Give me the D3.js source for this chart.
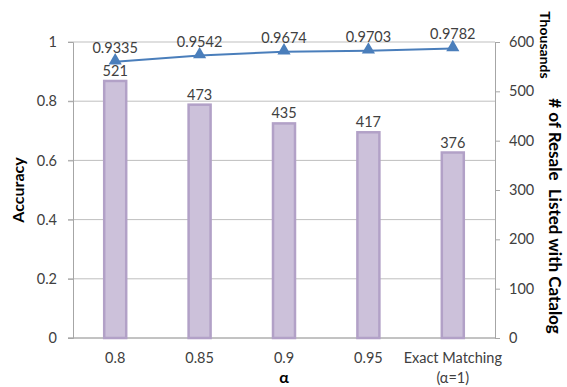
<!DOCTYPE html>
<html>
<head>
<meta charset="utf-8">
<script src="https://cdn.jsdelivr.net/npm/d3@7"></script>
<style>
  html, body { margin: 0; padding: 0; background: #fff; }
  svg text { font-family: Lato, "Open Sans", sans-serif; }
</style>
</head>
<body>
<svg id="chart" width="567" height="387"></svg>
<script>
// Categories along the x axis
const categories = ["0.8", "0.85", "0.9", "0.95", "Exact Matching"];
// Number of resale listings matched with catalog (thousands)
const listedCounts = [521, 473, 435, 417, 376];
// Accuracy per alpha
const accuracy = [0.9335, 0.9542, 0.9674, 0.9703, 0.9782];
// Tick values
const accuracyTicks = [0, 0.2, 0.4, 0.6, 0.8, 1];
const countTicks = [0, 100, 200, 300, 400, 500, 600];

const svg = d3.select("#chart");
const m = { left: 73, right: 495, top: 42, bottom: 338 };

const x = d3.scaleBand().domain(categories).range([m.left, m.right]);
const yAcc = d3.scaleLinear().domain([0, 1]).range([m.bottom, m.top]);
const yCnt = d3.scaleLinear().domain([0, 600]).range([m.bottom, m.top]);

const textColor = "#404040";

// Horizontal gridlines
svg.append("g").selectAll("line").data(accuracyTicks).join("line")
  .attr("x1", m.left - 5).attr("x2", m.right)
  .attr("y1", d => yAcc(d)).attr("y2", d => yAcc(d))
  .attr("stroke", "#bfbfbf").attr("stroke-width", 1);

// Left axis
const leftAxis = svg.append("g").attr("transform", `translate(${m.left},0)`)
  .call(d3.axisLeft(yAcc).tickValues(accuracyTicks).tickSize(5).tickPadding(11)
    .tickFormat(d => d3.format("")(d)));
leftAxis.select(".domain").attr("stroke", "#a6a6a6");
leftAxis.selectAll(".tick line").attr("stroke", "#a6a6a6");
leftAxis.selectAll("text").attr("font-size", 14.5).attr("fill", textColor)
  .style("font-family", "Lato, sans-serif");

// Right axis
const rightAxis = svg.append("g").attr("transform", `translate(${m.right},0)`)
  .call(d3.axisRight(yCnt).tickValues(countTicks).tickSize(5).tickPadding(9));
rightAxis.select(".domain").attr("stroke", "#a6a6a6");
rightAxis.selectAll(".tick line").attr("stroke", "#a6a6a6");
rightAxis.selectAll("text").attr("font-size", 14.5).attr("fill", textColor)
  .style("font-family", "Lato, sans-serif");

// Bottom axis line
svg.append("line")
  .attr("x1", m.left - 5).attr("x2", m.right)
  .attr("y1", m.bottom).attr("y2", m.bottom)
  .attr("stroke", "#a6a6a6");

// Bars
const barW = 22;
svg.append("g").selectAll("rect").data(listedCounts).join("rect")
  .attr("x", (d, i) => x(categories[i]) + x.bandwidth() / 2 - barW / 2)
  .attr("y", d => yCnt(d))
  .attr("width", barW)
  .attr("height", d => yCnt(0) - yCnt(d))
  .attr("fill", "#ccc1da")
  .attr("stroke", "#b2a1c7")
  .attr("stroke-width", 2.5);

// Bar value labels
svg.append("g").selectAll("text").data(listedCounts).join("text")
  .attr("x", (d, i) => x(categories[i]) + x.bandwidth() / 2)
  .attr("y", d => yCnt(d) - 5)
  .attr("text-anchor", "middle")
  .attr("font-size", 14.5).attr("fill", textColor)
  .text(d => d);

// Accuracy line
const line = d3.line()
  .x((d, i) => x(categories[i]) + x.bandwidth() / 2)
  .y(d => yAcc(d));
svg.append("path").datum(accuracy)
  .attr("d", line).attr("fill", "none")
  .attr("stroke", "#4a7ebb").attr("stroke-width", 2);

// Triangle markers
const tri = d3.symbol().type(d3.symbolTriangle).size(75);
svg.append("g").selectAll("path").data(accuracy).join("path")
  .attr("d", tri)
  .attr("transform", (d, i) => `translate(${x(categories[i]) + x.bandwidth() / 2},${yAcc(d) - 1})`)
  .attr("fill", "#4a7ebb");

// Accuracy value labels
svg.append("g").selectAll("text").data(accuracy).join("text")
  .attr("x", (d, i) => x(categories[i]) + x.bandwidth() / 2)
  .attr("y", d => yAcc(d) - 9)
  .attr("text-anchor", "middle")
  .attr("font-size", 14.5).attr("fill", textColor)
  .text(d => d3.format(".4f")(d));

// Category labels
const catG = svg.append("g");
categories.forEach((c, i) => {
  const cx = x(c) + x.bandwidth() / 2;
  catG.append("text").attr("x", cx).attr("y", 363)
    .attr("text-anchor", "middle").attr("font-size", 14.5).attr("fill", textColor)
    .text(c);
  if (c === "Exact Matching") {
    catG.append("text").attr("x", cx).attr("y", 383)
      .attr("text-anchor", "middle").attr("font-size", 14.5).attr("fill", textColor)
      .text("(α=1)");
  }
});

// Axis titles
svg.append("text")
  .attr("transform", "translate(24,190) rotate(-90)")
  .attr("text-anchor", "middle").attr("font-size", 16).attr("font-weight", "bold")
  .attr("fill", "#000").text("Accuracy");

svg.append("text")
  .attr("x", x(categories[2]) + x.bandwidth() / 2).attr("y", 383)
  .attr("text-anchor", "middle").attr("font-size", 16).attr("font-weight", "bold")
  .attr("fill", "#000").text("α");

svg.append("text")
  .attr("transform", "translate(540,45) rotate(90)")
  .attr("text-anchor", "middle").attr("font-size", 14).attr("font-weight", "bold")
  .attr("fill", "#000").text("Thousands");

svg.append("text")
  .attr("transform", "translate(549,216) rotate(90)")
  .attr("text-anchor", "middle").attr("font-size", 17).attr("font-weight", "bold")
  .attr("fill", "#000").attr("xml:space", "preserve")
  .style("white-space", "pre")
  .text("# of Resale  Listed with Catalog");
</script>
</body>
</html>
